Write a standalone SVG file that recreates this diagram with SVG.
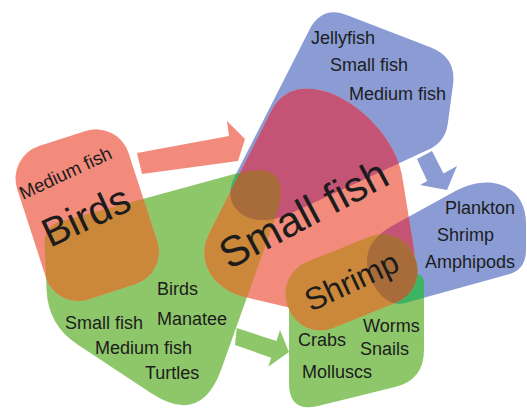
<svg xmlns="http://www.w3.org/2000/svg" width="527" height="409" viewBox="0 0 527 409">
<style>
.salmon{fill:#F28B7C}
.green{fill:#8EC76A}
.blue{fill:#8B9CD5}
.orange{fill:#CB873A}
.magenta{fill:#C45476}
.brown{fill:#A86C3A}
.teal{fill:#3CB462}
text{font-family:"Liberation Sans",Arial,Helvetica,sans-serif;fill:#1c1c1c}
.lbl{font-size:18px}
</style>
<defs>
<path id="sGreenA" d="M61.4,221.3 L234.3,174.1 Q297,157 275.2,218.2 L221.2,369.5 Q201,426 150.9,392.9 L77.2,344.3 Q48,325 46.6,290 L44.7,244 Q44,226 61.4,221.3 Z"/>
<path id="sGreenB" d="M300.7,297.6 L412.3,274.4 Q424,272 424,284 L424,350 Q424,380 394.9,387.1 L318.1,405.9 Q289,413 289,383 L289,312 Q289,300 300.7,297.6 Z"/>
<path id="sBlueA" d="M309.3,29.9 Q322,5 348,15.4 L431,47.6 Q457,58 452.9,85.7 L447.7,124.2 Q445,142 428.7,149.5 L290,213.8 C251.2,231.5 218.2,208.8 235,176 Z"/>
<path id="sBlueB" d="M395,224.25 L455,191.25 C490,172 527,185 526,225 L526,250 Q526,270 508,274.4 L405,303 C383.8,308.9 367,280 367,262 C367,244 377.5,233.9 395,224.25 Z"/>
<rect id="sBirds" x="-58.5" y="-80.5" width="117" height="161" rx="34" transform="translate(87.2,215.1) rotate(-18)"/>
<path id="sSmall" d="M271.6,110.6 C285,85 310,86 330,93 C360,104 398,140 402.9,180.4 L414.1,250.2 Q416,262 405.5,267.8 L328.75,310.2 Q320,315 310.3,312.6 L245,297 C212,288.75 195.8,260.4 209,234 Z"/>
<rect id="sShrimp" x="-68" y="-35.5" width="136" height="71" rx="34" transform="translate(351.5,282.3) rotate(-22)"/>
<clipPath id="cGreenA"><use href="#sGreenA"/></clipPath>
<clipPath id="cGreenB"><use href="#sGreenB"/></clipPath>
<clipPath id="cBlueA"><use href="#sBlueA"/></clipPath>
<clipPath id="cBlueB"><use href="#sBlueB"/></clipPath>
</defs>
<rect width="527" height="409" fill="#ffffff"/>

<g id="prey-birds">
<use href="#sGreenA" class="green"/>
<text class="lbl" x="157" y="295">Birds</text>
<text class="lbl" x="157" y="324.5">Manatee</text>
<text class="lbl" x="65" y="328.5">Small fish</text>
<text class="lbl" x="95" y="353.5">Medium fish</text>
<text class="lbl" x="145" y="378.5">Turtles</text>
</g>

<g id="prey-shrimp">
<use href="#sGreenB" class="green"/>
<text class="lbl" x="363" y="332">Worms</text>
<text class="lbl" x="298" y="346">Crabs</text>
<text class="lbl" x="360" y="354.5">Snails</text>
<text class="lbl" x="302" y="377.5">Molluscs</text>
</g>

<g id="predators-smallfish">
<use href="#sBlueA" class="blue"/>
<use href="#sBlueA" class="teal" clip-path="url(#cGreenA)"/>
<text class="lbl" x="311" y="43.5">Jellyfish</text>
<text class="lbl" x="330" y="71">Small fish</text>
<text class="lbl" x="349" y="99.5">Medium fish</text>
</g>

<g id="prey-smallfish">
<use href="#sBlueB" class="blue"/>
<use href="#sBlueB" class="teal" clip-path="url(#cGreenB)"/>
<text class="lbl" x="445" y="213.5">Plankton</text>
<text class="lbl" x="437" y="241">Shrimp</text>
<text class="lbl" x="425" y="268">Amphipods</text>
</g>

<g id="birds">
<use href="#sBirds" class="salmon"/>
<use href="#sBirds" class="orange" clip-path="url(#cGreenA)"/>
<text font-size="18.5" transform="translate(23,200) rotate(-25)">Medium fish</text>
<text font-size="40.5" transform="translate(50,248) rotate(-25)">Birds</text>
</g>

<g id="small-fish">
<use href="#sSmall" class="salmon"/>
<use href="#sSmall" class="orange" clip-path="url(#cGreenA)"/>
<use href="#sSmall" class="orange" clip-path="url(#cGreenB)"/>
<use href="#sSmall" class="magenta" clip-path="url(#cBlueA)"/>
<use href="#sSmall" class="magenta" clip-path="url(#cBlueB)"/>
<g clip-path="url(#cGreenA)"><use href="#sSmall" class="brown" clip-path="url(#cBlueA)"/></g>
<g clip-path="url(#cGreenB)"><use href="#sSmall" class="brown" clip-path="url(#cBlueB)"/></g>
<text font-size="42.5" transform="translate(229,270) rotate(-28)">Small fish</text>
</g>

<g id="shrimp">
<use href="#sShrimp" class="orange"/>
<use href="#sShrimp" class="brown" clip-path="url(#cBlueB)"/>
<text font-size="31.5" transform="translate(311,312) rotate(-25)">Shrimp</text>
</g>

<g id="connectors">
<polygon class="salmon" points="137,153 229,136 227,121 245,139 238,161 142,174"/>
<polygon class="blue" points="417,159 432,151 443.5,173.6 457,166 447,190 420,185 427.2,181.1"/>
<polygon class="green" points="236.7,328 276.5,341.1 280,330 289,352 268.3,366.7 271.2,357.7 235,345"/>
</g>
</svg>
